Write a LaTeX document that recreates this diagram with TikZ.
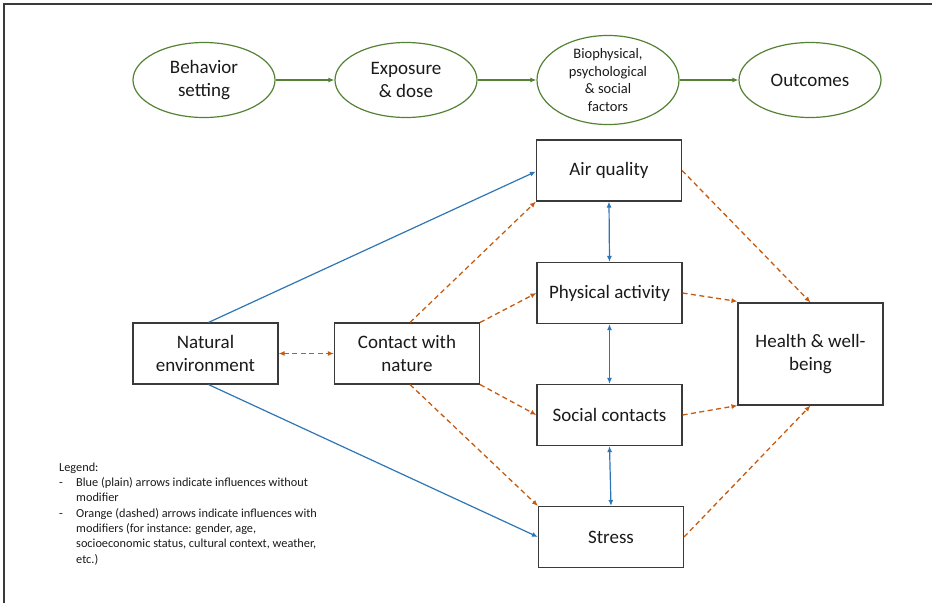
\documentclass[tikz,border=0pt]{standalone}
\usepackage{fontspec}
\setmainfont{Carlito}
\usetikzlibrary{shapes.geometric,arrows.meta}
\definecolor{frameg}{HTML}{3A3A3A}
\definecolor{textg}{HTML}{1A1A1A}
\definecolor{pathgreen}{HTML}{548235}
\definecolor{plainblue}{HTML}{2E75B6}
\definecolor{modorange}{HTML}{C55A11}
\tikzset{
  stage/.style={ellipse, draw=pathgreen, line width=1.2pt, minimum width=142pt,
    minimum height=75pt, inner sep=0pt, align=center, text=textg,
    font=\fontsize{19}{23}\selectfont},
  factor/.style={rectangle, draw=frameg, line width=1.1pt, minimum width=145pt,
    minimum height=61pt, align=center, text=textg, font=\fontsize{19}{23}\selectfont},
  stagearrow/.style={draw=pathgreen, line width=1.3pt, -{Latex[length=6pt,width=5pt]}},
  plain/.style={draw=plainblue, line width=1.2pt, -{Latex[length=6pt,width=5pt]}},
  plainboth/.style={plain, {Latex[length=6pt,width=5pt]}-{Latex[length=6pt,width=5pt]}},
  modified/.style={draw=modorange, line width=1.3pt, dash pattern=on 5pt off 3.5pt,
    -{Latex[length=6pt,width=5pt]}},
  modboth/.style={modified, {Latex[length=6pt,width=5pt]}-{Latex[length=6pt,width=5pt]}},
}
\begin{document}
\begin{tikzpicture}[x=1pt,y=-1pt]
\useasboundingbox (0,0) rectangle (932,603);
% page frame
\draw[frameg, line width=2pt] (4,603) -- (4,4) -- (932,4);

% conceptual pathway
\node[stage] (setting) at (204,80) {Behavior\\setting};
\node[stage] (exposure) at (406,80) {Exposure\\\& dose};
\node[stage, font=\fontsize{14.5}{17.6}\selectfont] (factors) at (608,80)
  {Biophysical,\\psychological\\\& social\\factors};
\node[stage] (outcomes) at (810,80) {Outcomes};
\draw[stagearrow] (setting) -- (exposure);
\draw[stagearrow] (exposure) -- (factors);
\draw[stagearrow] (factors) -- (outcomes);

% model boxes
\node[factor] (natural) at (205.5,353.5) {Natural\\environment};
\node[factor] (contact) at (407,353.5) {Contact with\\nature};
\node[factor] (air) at (609,170.5) {Air quality};
\node[factor] (activity) at (609.5,293) {Physical activity};
\node[factor] (social) at (609.5,415) {Social contacts};
\node[factor] (stress) at (611,537) {Stress};
\node[factor, minimum height=102pt] (health) at (810.5,354) {Health \& well-\\being};

% influences without modifier
\draw[plain] ([xshift=3pt]natural.north) -- ([yshift=-1pt]air.west);
\draw[plain] ([xshift=3pt]natural.south) -- (stress.west);
\draw[plainboth] (air.south) -- (activity.north);
\draw[plainboth] (activity.south) -- (social.north);
\draw[plainboth] (social.south) -- (stress.north);

% influences with modifiers
\draw[modboth] (natural.east) -- (contact.west);
\draw[modified] ([xshift=3pt]contact.north) -- (air.south west);
\draw[modified] (contact.north east) -- (activity.west);
\draw[modified] (contact.south east) -- (social.west);
\draw[modified] ([xshift=3pt]contact.south) -- (stress.north west);
\draw[modified] (air.east) -- (health.north);
\draw[modified] (activity.east) -- ([yshift=1pt]health.north west);
\draw[modified] (social.east) -- (health.south west);
\draw[modified] (stress.east) -- (health.south);

% legend
\node[anchor=north west, align=left, text=textg, font=\fontsize{12.3}{15.3}\selectfont,
  inner sep=0pt] (legend) at (59,462.5) {%
  Legend:\\
  \makebox[17pt][l]{-}Blue (plain) arrows indicate influences without\\
  \hspace*{17pt}modifier\\
  \makebox[17pt][l]{-}Orange (dashed) arrows indicate influences with\\
  \hspace*{17pt}modifiers (for instance: gender, age,\\
  \hspace*{17pt}socioeconomic status, cultural context, weather,\\
  \hspace*{17pt}etc.)};
\end{tikzpicture}
\end{document}
